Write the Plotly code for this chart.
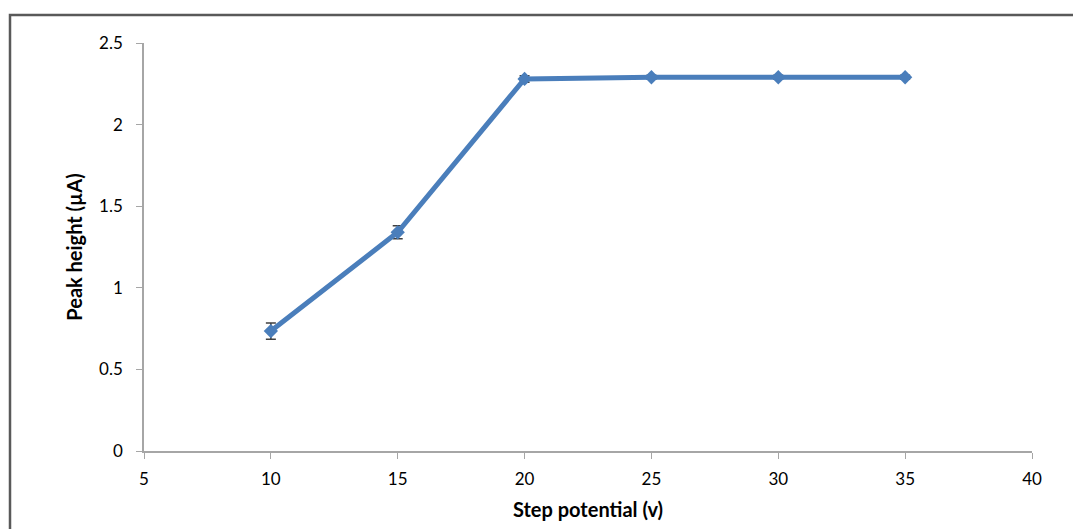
import plotly.graph_objects as go

step_potential = [10, 15, 20, 25, 30, 35]
peak_height = [0.735, 1.34, 2.28, 2.29, 2.29, 2.29]
error = [0.05, 0.04, 0.02, 0.012, 0.012, 0.012]

x_ticks = [5, 10, 15, 20, 25, 30, 35, 40]
y_ticks = [0, 0.5, 1, 1.5, 2, 2.5]
y_tick_labels = ["0", "0.5", "1", "1.5", "2", "2.5"]

L, R, T, B = 144, 41, 43, 78
W, H = 1073, 529
pw, ph = W - L - R, H - T - B

fig = go.Figure()
fig.add_trace(go.Scatter(
    x=step_potential, y=peak_height,
    mode="lines+markers",
    line=dict(color="#4A7EBB", width=5),
    marker=dict(symbol="diamond", size=11, color="#4A7EBB"),
    error_y=dict(type="data", array=error, visible=True, color="#404040",
                 thickness=1.5, width=5),
    showlegend=False,
))

tick_font = dict(family="Lato, Open Sans, sans-serif", size=17, color="#000000")
title_font = dict(family="Lato, Open Sans, sans-serif", size=20, color="#000000")
fig.update_layout(
    width=W, height=H,
    margin=dict(l=L, r=R, t=T, b=B),
    paper_bgcolor="white", plot_bgcolor="white",
    xaxis=dict(range=[5, 40], tickvals=x_ticks, showgrid=False, zeroline=False,
               showline=True, linecolor="#A6A6A6", linewidth=1.5,
               ticks="outside", ticklen=6, tickcolor="#A6A6A6",
               tickfont=tick_font, ticklabelstandoff=6,
               title=dict(text="<b>Step potential (v)</b>", font=title_font, standoff=15)),
    yaxis=dict(range=[0, 2.5], tickvals=y_ticks, ticktext=y_tick_labels,
               showgrid=False, zeroline=False,
               showline=True, linecolor="#A6A6A6", linewidth=1.5,
               ticks="outside", ticklen=6, tickcolor="#A6A6A6",
               tickfont=tick_font, ticklabelstandoff=10,
               title=dict(text="<b>Peak height (µA)</b>", font=title_font, standoff=11)),
    shapes=[dict(type="rect", xref="paper", yref="paper",
                 x0=(10 - L) / pw, x1=1.2, y0=-0.4, y1=(H - B - 15) / ph,
                 line=dict(color="#595959", width=2.5))],
)

fig.write_html("out.html")
